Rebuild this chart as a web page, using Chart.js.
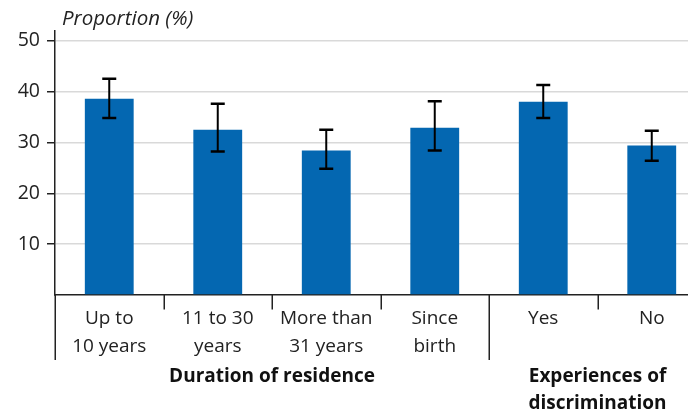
<!DOCTYPE html>
<html>
<head>
<meta charset="utf-8">
<script src="https://cdn.jsdelivr.net/npm/chart.js@4/dist/chart.umd.min.js"></script>
<style>
  html, body { margin: 0; padding: 0; background: #fff; overflow: hidden; width: 688px; height: 414px; }
  #wrap { width: 706px; height: 414px; }
</style>
</head>
<body>
<div id="wrap"><canvas id="c" width="706" height="414"></canvas></div>
<script>
const categories = [["Up to", "10 years"], ["11 to 30", "years"], ["More than", "31 years"], ["Since", "birth"], ["Yes"], ["No"]];
const values = [38.6, 32.5, 28.4, 32.9, 38.0, 29.4];
const errLow = [34.8, 28.2, 24.8, 28.4, 34.8, 26.4];
const errHigh = [42.5, 37.6, 32.5, 38.1, 41.3, 32.3];
const yTicks = [10, 20, 30, 40, 50];
const groupLabels = [["Duration of residence"], ["Experiences of", "discrimination"]];
const groupStart = [0, 4];
const groupEnd = [3, 5];
const yTitle = "Proportion (%)";

const FONT = "'Open Sans', 'Noto Sans', sans-serif";
const INK = "#222222";

const decor = {
  id: 'decor',
  afterDatasetsDraw(chart) {
    const ctx = chart.ctx;
    const x = chart.scales.x, y = chart.scales.y;
    ctx.save();
    ctx.strokeStyle = '#000';
    values.forEach((v, i) => {
      const cx = x.getPixelForValue(i);
      const yt = y.getPixelForValue(errHigh[i]);
      const yb = y.getPixelForValue(errLow[i]);
      ctx.lineWidth = 2;
      ctx.beginPath(); ctx.moveTo(cx, yt); ctx.lineTo(cx, yb); ctx.stroke();
      ctx.lineWidth = 2.5;
      ctx.beginPath();
      ctx.moveTo(cx - 7, yt); ctx.lineTo(cx + 7, yt);
      ctx.moveTo(cx - 7, yb); ctx.lineTo(cx + 7, yb);
      ctx.stroke();
    });
    ctx.restore();
  },
  afterDraw(chart) {
    const ctx = chart.ctx;
    const x = chart.scales.x;
    const area = chart.chartArea;
    const half = (x.getPixelForValue(1) - x.getPixelForValue(0)) / 2;
    const base = area.bottom;
    ctx.save();
    ctx.strokeStyle = INK;
    ctx.lineWidth = 1.5;
    for (let i = 0; i < categories.length; i++) {
      const bx = Math.round(x.getPixelForValue(i) - half) + 0.25;
      const isGroupStart = groupStart.includes(i);
      ctx.beginPath();
      ctx.moveTo(bx, base);
      ctx.lineTo(bx, base + (isGroupStart ? 65 : 14.5));
      ctx.stroke();
    }
    ctx.fillStyle = '#111';
    ctx.font = "bold 19px " + FONT;
    ctx.textAlign = 'center';
    ctx.textBaseline = 'middle';
    groupLabels.forEach((lines, g) => {
      const cx = (x.getPixelForValue(groupStart[g]) + x.getPixelForValue(groupEnd[g])) / 2;
      lines.forEach((t, k) => ctx.fillText(t, cx, 377 + k * 26.5));
    });
    ctx.font = "italic 20.5px " + FONT;
    ctx.textAlign = 'left';
    ctx.fillStyle = INK;
    ctx.fillText(yTitle, 62, 19);
    ctx.restore();
  }
};

new Chart(document.getElementById('c'), {
  type: 'bar',
  data: {
    labels: categories,
    datasets: [{
      data: values,
      backgroundColor: '#0467B1',
      borderWidth: 0,
      barPercentage: 0.45,
      categoryPercentage: 1.0
    }]
  },
  options: {
    responsive: false,
    animation: false,
    devicePixelRatio: 1,
    layout: { padding: { top: 30.5, left: 0, right: 0, bottom: 0 } },
    plugins: { legend: { display: false }, tooltip: { enabled: false }, title: { display: false } },
    scales: {
      x: {
        type: 'category',
        offset: true,
        afterFit(s) { s.height = 119; },
        grid: { display: false, drawTicks: false },
        border: { display: true, color: INK, width: 1.5 },
        ticks: {
          color: INK,
          padding: 10,
          maxRotation: 0,
          autoSkip: false,
          font: { family: FONT, size: 19, lineHeight: '28px' }
        }
      },
      y: {
        min: 0,
        max: 52,
        afterFit(s) { s.width = 55; },
        afterBuildTicks(s) {
          s.ticks = [0].concat(yTicks).concat([52]).map(v => ({ value: v }));
        },
        grid: {
          drawTicks: true,
          tickLength: 8,
          lineWidth: 1.5,
          color: c => (c.tick && yTicks.includes(c.tick.value)) ? '#d9d9d9' : 'rgba(0,0,0,0)',
          tickColor: c => (c.tick && yTicks.includes(c.tick.value)) ? INK : 'rgba(0,0,0,0)',
          tickWidth: 1.5
        },
        border: { display: true, color: INK, width: 1.5 },
        ticks: {
          color: INK,
          padding: 7,
          font: { family: FONT, size: 19.5 },
          callback: v => yTicks.includes(v) ? String(v) : ''
        }
      }
    }
  },
  plugins: [decor]
});
</script>
</body>
</html>
